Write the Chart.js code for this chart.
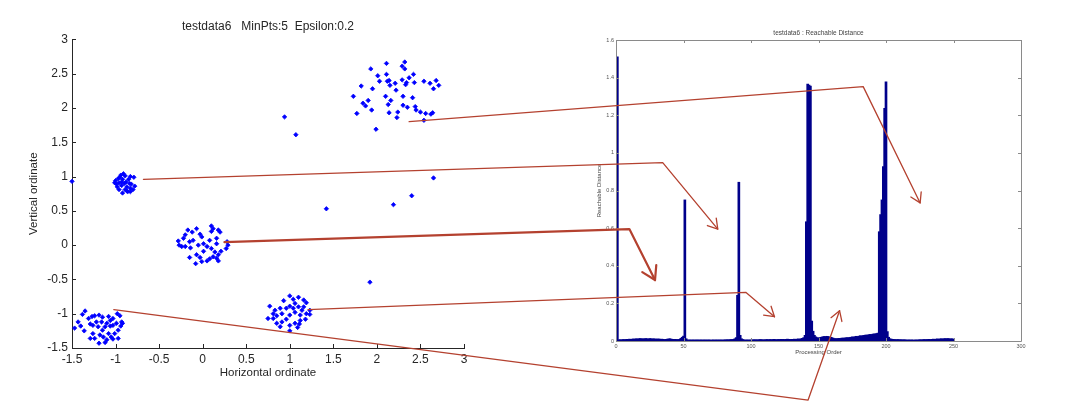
<!DOCTYPE html>
<html>
<head>
<meta charset="utf-8">
<title>testdata6 - DBSCAN / OPTICS</title>
<script src="https://cdn.jsdelivr.net/npm/chart.js@4.4.1/dist/chart.umd.min.js"></script>
<style>
  html, body { margin: 0; padding: 0; background: #fff; }
  #wrap { position: relative; width: 1080px; height: 410px; overflow: hidden; }
  canvas { position: absolute; top: 0; }
  #scatterChart { left: 0; }
  #reachChart { left: 540px; }
  #arrows { left: 0; pointer-events: none; }
</style>
</head>
<body>
<div id="wrap">
  <canvas id="scatterChart" width="536" height="410"></canvas>
  <canvas id="reachChart" width="540" height="410"></canvas>
  <canvas id="arrows" width="1080" height="410"></canvas>
</div>
<script>
// --- donnees ---
const scatterXTicks = [-1.5, -1, -0.5, 0, 0.5, 1, 1.5, 2, 2.5, 3];
const scatterYTicks = [-1.5, -1, -0.5, 0, 0.5, 1, 1.5, 2, 2.5, 3];
const reachXTicks = [0, 50, 100, 150, 200, 250, 300];
const reachYTicks = [0, 0.2, 0.4, 0.6, 0.8, 1, 1.2, 1.4, 1.6];

const clusterTopRight = [
  [2.11,2.65],[2.32,2.67],[2.29,2.61],[2.32,2.57],[1.93,2.57],[2.01,2.47],[2.11,2.49],[2.42,2.49],
  [2.37,2.44],[2.03,2.39],[2.12,2.39],[2.14,2.40],[2.21,2.36],[2.29,2.41],[2.34,2.37],[2.33,2.34],
  [2.43,2.37],[2.54,2.39],[2.61,2.36],[2.68,2.40],[2.71,2.33],[2.65,2.28],[1.82,2.32],[1.95,2.28],
  [2.15,2.33],[2.22,2.26],[1.73,2.17],[2.10,2.17],[2.30,2.17],[2.41,2.15],[2.16,2.11],[1.90,2.11],
  [1.84,2.07],[1.87,2.03],[2.13,2.05],[2.30,2.04],[2.35,2.01],[2.44,2.02],[2.45,1.97],[2.50,1.94],
  [2.56,1.92],[2.62,1.91],[2.64,1.93],[1.94,1.97],[2.14,1.93],[2.24,1.94],[1.77,1.92],[2.23,1.86],
  [2.54,1.82],[1.99,1.69]
];
const clusterUpperLeft = [
  [-1.00,0.94],[-0.97,0.97],[-0.94,1.02],[-0.91,1.04],[-0.89,1.01],[-0.92,0.96],[-0.96,0.91],[-0.99,0.89],
  [-0.93,0.87],[-0.88,0.92],[-0.85,0.96],[-0.83,1.00],[-0.79,0.99],[-0.82,0.89],[-0.78,0.86],[-0.83,0.83],
  [-0.86,0.78],[-0.89,0.81],[-0.96,0.81],[-0.92,0.76],[-0.87,0.85],[-0.95,0.99],[-1.01,0.91],[-0.90,0.90],
  [-0.84,0.90],[-0.80,0.81],[-0.98,0.85],[-0.93,0.92],[-0.87,0.79],[-0.83,0.78]
];
const clusterCenter = [
  [0.10,0.28],[0.12,0.24],[0.10,0.20],[0.18,0.22],[0.20,0.19],[-0.07,0.24],[-0.17,0.22],[-0.12,0.19],
  [-0.20,0.15],[-0.22,0.10],[-0.03,0.16],[-0.01,0.12],[0.08,0.07],[0.16,0.10],[-0.28,0.06],[-0.24,-0.02],
  [-0.20,-0.02],[-0.15,0.05],[-0.11,0.07],[-0.14,-0.04],[-0.05,0.00],[0.01,0.02],[0.05,-0.02],[0.10,-0.05],
  [0.16,0.02],[0.28,0.05],[0.27,-0.05],[0.29,0.00],[0.21,-0.09],[0.14,-0.10],[0.18,-0.14],[0.01,-0.09],
  [-0.07,-0.14],[-0.15,-0.18],[-0.03,-0.18],[-0.08,-0.27],[-0.01,-0.24],[0.05,-0.23],[0.08,-0.20],[0.16,-0.19],
  [0.18,-0.23],[0.12,-0.17],[-0.27,0.00]
];
const clusterLowerRight = [
  [1.00,-0.74],[1.04,-0.79],[1.10,-0.76],[1.16,-0.80],[1.19,-0.84],[0.93,-0.81],[1.06,-0.85],[1.00,-0.89],
  [0.96,-0.92],[0.89,-0.92],[0.83,-0.95],[0.77,-0.89],[0.81,-1.00],[0.75,-1.07],[0.85,-1.03],[0.91,-1.00],
  [1.04,-0.92],[1.10,-0.90],[1.14,-0.95],[1.19,-1.00],[1.23,-1.01],[1.12,-1.02],[1.06,-0.98],[1.00,-1.02],
  [0.96,-1.08],[0.91,-1.12],[0.85,-1.14],[1.00,-1.17],[1.06,-1.14],[1.12,-1.10],[1.18,-1.08],[1.09,-1.20],
  [1.00,-1.25],[0.89,-1.19],[0.81,-1.07],[1.16,-0.90],[1.23,-0.95],[1.11,-1.15]
];
const clusterLowerLeft = [
  [-1.35,-0.96],[-1.38,-1.01],[-1.43,-1.12],[-1.40,-1.18],[-1.47,-1.21],[-1.36,-1.25],[-1.27,-1.04],[-1.24,-1.03],
  [-1.19,-1.02],[-1.15,-1.05],[-1.08,-1.04],[-1.03,-1.07],[-0.98,-1.00],[-0.95,-1.03],[-0.93,-1.12],[-0.94,-1.18],
  [-0.97,-1.24],[-1.01,-1.29],[-1.05,-1.34],[-1.08,-1.29],[-1.15,-1.24],[-1.20,-1.19],[-1.26,-1.17],[-1.29,-1.15],
  [-1.22,-1.12],[-1.16,-1.12],[-1.10,-1.14],[-1.06,-1.18],[-1.03,-1.17],[-0.99,-1.14],[-1.12,-1.19],[-1.18,-1.31],
  [-1.26,-1.29],[-1.29,-1.36],[-1.24,-1.36],[-1.19,-1.43],[-1.12,-1.42],[-1.10,-1.38],[-1.03,-1.37],[-0.97,-1.36],
  [-1.31,-1.07],[-1.06,-1.10],[-1.14,-1.34],[-0.92,-1.14]
];
const noisePoints = [
  [-1.50,0.93],[0.94,1.87],[1.07,1.61],[1.42,0.53],[2.19,0.59],[2.40,0.72],[2.65,0.98],[1.92,-0.54]
];

// distance d'accessibilite, dans l'ordre de traitement (1..250)
const reachDistance = [
  1.51,
  0.006,0.007,0.006,0.008,0.007,0.008,0.009,0.008,0.010,
  0.009,0.010,0.011,0.010,0.012,0.011,0.012,0.013,0.012,0.011,
  0.012,0.013,0.012,0.011,0.013,0.012,0.011,0.012,0.010,0.011,
  0.010,0.011,0.009,0.010,0.009,0.008,0.009,0.010,0.011,0.012,
  0.010,0.009,0.008,0.009,0.008,0.007,0.009,0.014,0.020,
  0.026,0.75,0.012,
  0.006,0.005,0.006,0.005,0.006,0.005,0.006,0.005,
  0.006,0.005,0.006,0.005,0.006,0.005,0.006,0.005,0.006,0.005,
  0.005,0.006,0.005,0.006,0.005,0.006,0.005,0.006,0.005,0.006,
  0.006,0.007,0.006,0.007,0.008,0.007,0.009,0.012,0.018,
  0.243,0.844,0.030,0.012,
  0.008,0.006,0.005,0.006,0.005,0.006,0.005,
  0.006,0.007,0.006,0.007,0.006,0.007,0.008,0.007,0.006,0.007,
  0.007,0.008,0.007,0.008,0.007,0.008,0.009,0.008,0.007,0.008,
  0.008,0.009,0.008,0.009,0.008,0.009,0.010,0.009,0.008,0.009,
  0.009,0.010,0.009,0.010,0.011,0.010,0.012,0.014,0.018,0.030,
  0.634,1.366,1.360,1.355,0.106,0.052,0.030,
  0.022,0.018,0.016,0.018,0.020,0.022,0.024,0.023,0.025,0.024,0.022,0.020,0.018,
  0.015,0.013,0.012,0.013,0.014,0.013,0.015,0.016,0.015,0.017,
  0.018,0.017,0.019,0.020,0.022,0.021,0.023,0.025,0.024,0.026,
  0.028,0.027,0.029,0.030,0.032,0.031,0.033,0.035,0.034,0.036,
  0.038,0.037,0.040,0.042,
  0.581,0.672,0.750,0.927,1.237,1.378,0.050,0.020,
  0.012,0.010,0.009,0.008,0.008,0.007,0.008,0.007,
  0.007,0.006,0.007,0.006,0.006,0.005,0.006,0.005,0.006,0.005,
  0.005,0.006,0.005,0.006,0.007,0.006,0.007,0.008,0.007,0.008,
  0.008,0.009,0.008,0.009,0.010,0.009,0.010,0.011,0.010,0.011,
  0.012,0.011,0.012,0.013,0.012,0.013,0.012,0.011,0.012,0.010
];

// fleches : depart sur le nuage (gauche), coude et pointe sur le graphe de droite
const arrowStarts = [[2.37,1.80],[-0.68,0.96],[0.25,0.044],[1.21,-0.94],[-1.02,-0.94]];
const arrowBends  = [[183.1,1.352],[34.6,0.948],[9.9,0.595],[96.1,0.259],[142.3,-0.314]];
const arrowEnds   = [[225.3,0.734],[75.4,0.595],[28.9,0.324],[117.4,0.129],[165.6,0.161]];

Chart.defaults.font.family = "'Liberation Sans', Arial, sans-serif";
Chart.defaults.color = '#262626';

const toXY = p => ({ x: p[0], y: p[1] });
const allPoints = [].concat(clusterTopRight, clusterUpperLeft, clusterCenter,
                            clusterLowerRight, clusterLowerLeft, noisePoints).map(toXY);

function setTicks(values) {
  return scale => { scale.ticks = values.map(v => ({ value: v })); };
}

// petits traits de graduation tournes vers l'interieur (style MATLAB)
function innerTicks(color, len, boxed) {
  return {
    id: 'innerTicks',
    afterDraw(chart) {
      const { ctx, chartArea: a, scales: { x, y } } = chart;
      ctx.save();
      ctx.strokeStyle = color;
      ctx.lineWidth = 1;
      ctx.beginPath();
      x.ticks.forEach(t => {
        const p = Math.round(x.getPixelForValue(t.value)) + 0.5;
        ctx.moveTo(p, a.bottom); ctx.lineTo(p, a.bottom - len);
        if (boxed) { ctx.moveTo(p, a.top); ctx.lineTo(p, a.top + len); }
      });
      y.ticks.forEach(t => {
        const p = Math.round(y.getPixelForValue(t.value)) + 0.5;
        ctx.moveTo(a.left, p); ctx.lineTo(a.left + len, p);
        if (boxed) { ctx.moveTo(a.right, p); ctx.lineTo(a.right - len, p); }
      });
      if (boxed) {
        ctx.rect(Math.round(a.left) + 0.5, Math.round(a.top) + 0.5,
                 Math.round(a.right - a.left), Math.round(a.bottom - a.top));
      }
      ctx.stroke();
      ctx.restore();
    }
  };
}

// --- nuage de points ---
const scatterChart = new Chart(document.getElementById('scatterChart'), {
  type: 'scatter',
  data: {
    datasets: [{
      data: allPoints,
      pointStyle: 'rectRot',
      radius: 2.2,
      borderWidth: 0.8,
      backgroundColor: '#0000ff',
      borderColor: '#0000ff',
      clip: false
    }]
  },
  options: {
    responsive: false,
    animation: false,
    layout: { padding: { right: 72 } },
    plugins: {
      legend: { display: false },
      tooltip: { enabled: false },
      title: {
        display: true,
        fullSize: false,
        text: 'testdata6   MinPts:5  Epsilon:0.2',
        font: { size: 12, weight: 'normal' },
        padding: { top: 19, bottom: 6 }
      }
    },
    scales: {
      x: {
        type: 'linear', min: -1.5, max: 3,
        grid: { display: false, drawTicks: false },
        border: { display: true, color: '#262626' },
        ticks: { font: { size: 12 }, padding: 4, maxRotation: 0, callback: v => String(v) },
        title: { display: true, text: 'Horizontal ordinate', font: { size: 11.5 }, padding: { bottom: 30 } },
        afterBuildTicks: setTicks(scatterXTicks),
        afterFit: s => { s.height = 62; }
      },
      y: {
        type: 'linear', min: -1.5, max: 3,
        grid: { display: false, drawTicks: false },
        border: { display: true, color: '#262626' },
        ticks: { font: { size: 12 }, padding: 4, callback: v => String(v) },
        title: { display: true, text: 'Vertical ordinate', font: { size: 11.5 }, padding: { top: 27 } },
        afterBuildTicks: setTicks(scatterYTicks),
        afterFit: s => { s.width = 72; }
      }
    }
  },
  plugins: [innerTicks('#262626', 4, false)]
});

// --- graphe d'accessibilite ---
const reachChart = new Chart(document.getElementById('reachChart'), {
  type: 'bar',
  data: {
    datasets: [{
      data: reachDistance.map((v, i) => ({ x: i + 1, y: v })),
      backgroundColor: '#00008b',
      borderWidth: 0,
      barThickness: 2
    }]
  },
  options: {
    responsive: false,
    animation: false,
    layout: { padding: { right: 59 } },
    plugins: {
      legend: { display: false },
      tooltip: { enabled: false },
      title: {
        display: true,
        fullSize: false,
        text: 'testdata6 : Reachable Distance',
        color: '#444',
        font: { size: 6.5, weight: 'normal' },
        padding: { top: 29.4, bottom: 2.8 }
      }
    },
    scales: {
      x: {
        type: 'linear', min: 0, max: 300, offset: false,
        grid: { display: false, drawTicks: false },
        border: { display: false },
        ticks: { font: { size: 5.5 }, color: '#555', padding: 2, maxRotation: 0, callback: v => String(v) },
        title: { display: true, text: 'Processing Order', color: '#444', font: { size: 6 }, padding: { bottom: 54 } },
        afterBuildTicks: setTicks(reachXTicks),
        afterFit: s => { s.height = 69; }
      },
      y: {
        type: 'linear', min: 0, max: 1.6,
        grid: { display: false, drawTicks: false },
        border: { display: false },
        ticks: { font: { size: 5.5 }, color: '#555', padding: 2, callback: v => String(v) },
        title: { display: true, text: 'Reachable Distance', color: '#444', font: { size: 6 }, padding: { top: 56 } },
        afterBuildTicks: setTicks(reachYTicks),
        afterFit: s => { s.width = 76; }
      }
    }
  },
  plugins: [innerTicks('#8a8a8a', 3, true)]
});

// --- fleches rouges entre les deux graphes ---
function drawArrows() {
  const ctx = document.getElementById('arrows').getContext('2d');
  const sx = scatterChart.scales.x, sy = scatterChart.scales.y;
  const rx = reachChart.scales.x, ry = reachChart.scales.y;
  const offset = 540;
  ctx.strokeStyle = '#b4412f';
  ctx.lineCap = 'round';
  ctx.lineJoin = 'round';
  arrowStarts.forEach((s, i) => {
    const p0 = [sx.getPixelForValue(s[0]), sy.getPixelForValue(s[1])];
    const p1 = [offset + rx.getPixelForValue(arrowBends[i][0]), ry.getPixelForValue(arrowBends[i][1])];
    const p2 = [offset + rx.getPixelForValue(arrowEnds[i][0]), ry.getPixelForValue(arrowEnds[i][1])];
    const thick = i === 2;
    ctx.lineWidth = thick ? 2.2 : 1.3;
    ctx.beginPath();
    ctx.moveTo(p0[0], p0[1]);
    ctx.lineTo(p1[0], p1[1]);
    ctx.lineTo(p2[0], p2[1]);
    ctx.stroke();
    // pointe ouverte
    const ang = Math.atan2(p2[1] - p1[1], p2[0] - p1[0]);
    const len = thick ? 15 : 11;
    const spread = 0.55;
    ctx.beginPath();
    ctx.moveTo(p2[0] - len * Math.cos(ang - spread), p2[1] - len * Math.sin(ang - spread));
    ctx.lineTo(p2[0], p2[1]);
    ctx.lineTo(p2[0] - len * Math.cos(ang + spread), p2[1] - len * Math.sin(ang + spread));
    ctx.stroke();
  });
}
drawArrows();
</script>
</body>
</html>
